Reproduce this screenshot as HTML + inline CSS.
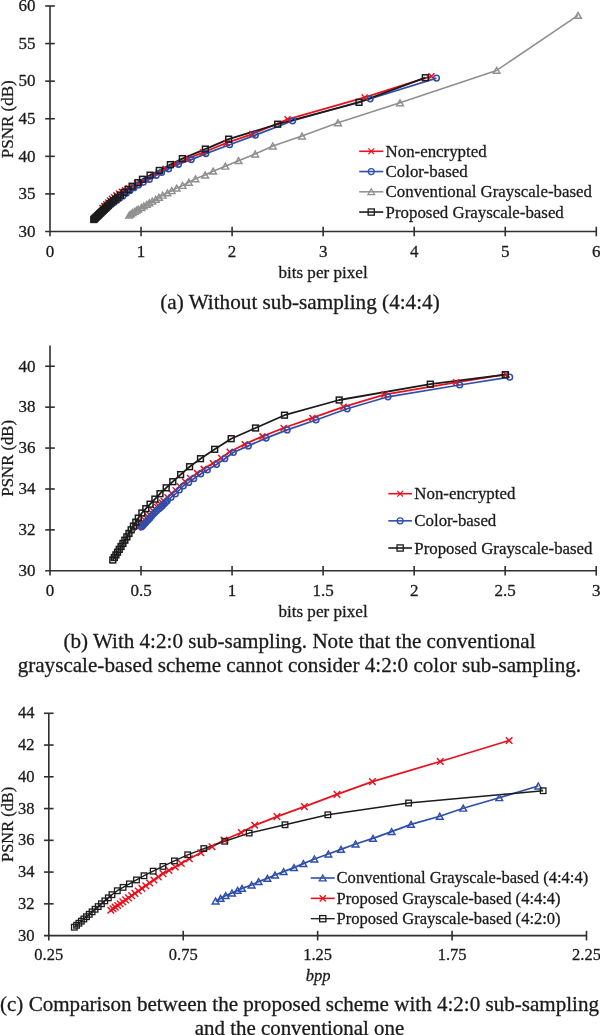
<!DOCTYPE html>
<html><head><meta charset="utf-8"><style>
html,body{margin:0;padding:0;background:#fff;width:600px;height:1035px;overflow:hidden}
svg{display:block}
text{font-family:"Liberation Serif","Times New Roman",serif;fill:#1a1a1a;stroke:#1a1a1a;stroke-width:0.28px}
</style></head><body>
<svg width="600" height="1035" viewBox="0 0 600 1035">
<path d="M50,6.0L50,236.3M45.2,231.5L596.3,231.5" stroke="#2f2f2f" stroke-width="1.6" fill="none"/>
<path d="M45.2,193.91L54.8,193.91" stroke="#2f2f2f" stroke-width="1.6"/>
<path d="M45.2,156.33L54.8,156.33" stroke="#2f2f2f" stroke-width="1.6"/>
<path d="M45.2,118.74L54.8,118.74" stroke="#2f2f2f" stroke-width="1.6"/>
<path d="M45.2,81.16L54.8,81.16" stroke="#2f2f2f" stroke-width="1.6"/>
<path d="M45.2,43.57L54.8,43.57" stroke="#2f2f2f" stroke-width="1.6"/>
<path d="M45.2,5.99L54.8,5.99" stroke="#2f2f2f" stroke-width="1.6"/>
<path d="M141.05,226.7L141.05,236.3" stroke="#2f2f2f" stroke-width="1.6"/>
<path d="M232.10,226.7L232.10,236.3" stroke="#2f2f2f" stroke-width="1.6"/>
<path d="M323.15,226.7L323.15,236.3" stroke="#2f2f2f" stroke-width="1.6"/>
<path d="M414.20,226.7L414.20,236.3" stroke="#2f2f2f" stroke-width="1.6"/>
<path d="M505.25,226.7L505.25,236.3" stroke="#2f2f2f" stroke-width="1.6"/>
<path d="M596.30,226.7L596.30,236.3" stroke="#2f2f2f" stroke-width="1.6"/>
<text x="50.00" y="256.6" text-anchor="middle" font-size="17">0</text>
<text x="141.05" y="256.6" text-anchor="middle" font-size="17">1</text>
<text x="232.10" y="256.6" text-anchor="middle" font-size="17">2</text>
<text x="323.15" y="256.6" text-anchor="middle" font-size="17">3</text>
<text x="414.20" y="256.6" text-anchor="middle" font-size="17">4</text>
<text x="505.25" y="256.6" text-anchor="middle" font-size="17">5</text>
<text x="596.30" y="256.6" text-anchor="middle" font-size="17">6</text>
<text x="35.6" y="236.77" text-anchor="end" font-size="17">30</text>
<text x="35.6" y="199.19" text-anchor="end" font-size="17">35</text>
<text x="35.6" y="161.60" text-anchor="end" font-size="17">40</text>
<text x="35.6" y="124.01" text-anchor="end" font-size="17">45</text>
<text x="35.6" y="86.43" text-anchor="end" font-size="17">50</text>
<text x="35.6" y="48.84" text-anchor="end" font-size="17">55</text>
<text x="35.6" y="11.26" text-anchor="end" font-size="17">60</text>
<path d="M431.50,76.20L364.70,97.40L287.50,119.30L252.40,134.06L226.60,142.92L202.90,152.47L188.30,158.42L175.50,163.88L165.60,168.78L158.60,172.42L153.30,175.28L146.30,179.01L140.30,182.41L137.00,183.28L132.60,185.94L128.64,188.22L125.08,190.19L121.87,191.83L118.98,193.45L116.38,195.37L114.05,197.20L111.94,198.78L110.04,200.52L108.14,202.39L106.24,204.26L104.34,206.13L102.44,207.99" stroke="#E8111E" stroke-width="1.8" fill="none" stroke-linejoin="round"/>
<path d="M436.50,78.10L370.20,98.80L292.60,120.80L255.40,135.10L229.60,144.70L205.90,153.60L191.30,159.60L178.50,164.30L168.60,168.90L161.60,172.40L156.30,175.30L149.30,179.40L143.30,182.20L138.50,184.89L134.00,187.69L130.00,190.48L126.30,193.34L122.80,195.94L119.60,198.30L116.70,200.52L114.00,202.47L111.50,204.20L109.20,206.30L107.10,208.24L105.10,210.09L103.30,211.75L101.60,213.32L100.00,214.79L98.60,216.08" stroke="#2F4EAA" stroke-width="1.7" fill="none" stroke-linejoin="round"/>
<path d="M578.00,15.40L496.60,70.40L400.00,102.80L338.00,122.80L302.00,136.00L272.80,146.00L255.20,154.00L238.54,160.68L225.33,166.22L213.11,171.19L205.18,175.03L195.43,178.86L188.86,182.27L182.56,185.49L176.66,188.14L171.72,190.70L167.45,192.87L162.71,195.24L158.99,197.42L155.80,199.31L152.28,201.20L149.37,202.81L146.79,204.42L143.81,205.94L141.44,207.55L138.19,209.16L136.70,210.10L134.81,211.33L132.64,212.57L130.95,213.89L129.25,215.12" stroke="#8F8F8F" stroke-width="1.6" fill="none" stroke-linejoin="round"/>
<path d="M425.30,77.70L359.00,102.35L277.70,124.20L228.65,139.15L205.35,149.09L182.35,158.60L170.37,164.66L159.33,170.44L150.05,175.17L142.49,179.29L137.96,182.70L132.10,186.25L128.03,189.42L124.24,192.31L120.34,195.10L117.64,197.37L115.57,199.03L113.47,200.64L111.44,202.15L109.86,203.70L108.36,205.18L106.93,206.58L105.58,207.91L104.30,209.17L103.07,210.37L101.91,211.51L100.81,212.60L99.76,213.62L98.77,214.60L97.82,215.53L96.92,216.41L96.07,217.25L95.26,218.05L94.49,218.81L93.76,219.52" stroke="#1B1B1B" stroke-width="1.8" fill="none" stroke-linejoin="round"/>
<path d="M428.50,73.20L434.50,79.20M428.50,79.20L434.50,73.20" stroke="#E8111E" stroke-width="1.45" fill="none"/>
<path d="M361.70,94.40L367.70,100.40M361.70,100.40L367.70,94.40" stroke="#E8111E" stroke-width="1.45" fill="none"/>
<path d="M284.50,116.30L290.50,122.30M284.50,122.30L290.50,116.30" stroke="#E8111E" stroke-width="1.45" fill="none"/>
<path d="M249.40,131.06L255.40,137.06M249.40,137.06L255.40,131.06" stroke="#E8111E" stroke-width="1.45" fill="none"/>
<path d="M223.60,139.92L229.60,145.92M223.60,145.92L229.60,139.92" stroke="#E8111E" stroke-width="1.45" fill="none"/>
<path d="M199.90,149.47L205.90,155.47M199.90,155.47L205.90,149.47" stroke="#E8111E" stroke-width="1.45" fill="none"/>
<path d="M185.30,155.42L191.30,161.42M185.30,161.42L191.30,155.42" stroke="#E8111E" stroke-width="1.45" fill="none"/>
<path d="M172.50,160.88L178.50,166.88M172.50,166.88L178.50,160.88" stroke="#E8111E" stroke-width="1.45" fill="none"/>
<path d="M162.60,165.78L168.60,171.78M162.60,171.78L168.60,165.78" stroke="#E8111E" stroke-width="1.45" fill="none"/>
<path d="M155.60,169.42L161.60,175.42M155.60,175.42L161.60,169.42" stroke="#E8111E" stroke-width="1.45" fill="none"/>
<path d="M150.30,172.28L156.30,178.28M150.30,178.28L156.30,172.28" stroke="#E8111E" stroke-width="1.45" fill="none"/>
<path d="M143.30,176.01L149.30,182.01M143.30,182.01L149.30,176.01" stroke="#E8111E" stroke-width="1.45" fill="none"/>
<path d="M137.30,179.41L143.30,185.41M137.30,185.41L143.30,179.41" stroke="#E8111E" stroke-width="1.45" fill="none"/>
<path d="M134.00,180.28L140.00,186.28M134.00,186.28L140.00,180.28" stroke="#E8111E" stroke-width="1.45" fill="none"/>
<path d="M129.60,182.94L135.60,188.94M129.60,188.94L135.60,182.94" stroke="#E8111E" stroke-width="1.45" fill="none"/>
<path d="M125.64,185.22L131.64,191.22M125.64,191.22L131.64,185.22" stroke="#E8111E" stroke-width="1.45" fill="none"/>
<path d="M122.08,187.19L128.08,193.19M122.08,193.19L128.08,187.19" stroke="#E8111E" stroke-width="1.45" fill="none"/>
<path d="M118.87,188.83L124.87,194.83M118.87,194.83L124.87,188.83" stroke="#E8111E" stroke-width="1.45" fill="none"/>
<path d="M115.98,190.45L121.98,196.45M115.98,196.45L121.98,190.45" stroke="#E8111E" stroke-width="1.45" fill="none"/>
<path d="M113.38,192.37L119.38,198.37M113.38,198.37L119.38,192.37" stroke="#E8111E" stroke-width="1.45" fill="none"/>
<path d="M111.05,194.20L117.05,200.20M111.05,200.20L117.05,194.20" stroke="#E8111E" stroke-width="1.45" fill="none"/>
<path d="M108.94,195.78L114.94,201.78M108.94,201.78L114.94,195.78" stroke="#E8111E" stroke-width="1.45" fill="none"/>
<path d="M107.04,197.52L113.04,203.52M107.04,203.52L113.04,197.52" stroke="#E8111E" stroke-width="1.45" fill="none"/>
<path d="M105.14,199.39L111.14,205.39M105.14,205.39L111.14,199.39" stroke="#E8111E" stroke-width="1.45" fill="none"/>
<path d="M103.24,201.26L109.24,207.26M103.24,207.26L109.24,201.26" stroke="#E8111E" stroke-width="1.45" fill="none"/>
<path d="M101.34,203.13L107.34,209.13M101.34,209.13L107.34,203.13" stroke="#E8111E" stroke-width="1.45" fill="none"/>
<path d="M99.44,204.99L105.44,210.99M99.44,210.99L105.44,204.99" stroke="#E8111E" stroke-width="1.45" fill="none"/>
<circle cx="436.50" cy="78.10" r="2.85" stroke="#2F4EAA" stroke-width="1.5" fill="none"/>
<circle cx="370.20" cy="98.80" r="2.85" stroke="#2F4EAA" stroke-width="1.5" fill="none"/>
<circle cx="292.60" cy="120.80" r="2.85" stroke="#2F4EAA" stroke-width="1.5" fill="none"/>
<circle cx="255.40" cy="135.10" r="2.85" stroke="#2F4EAA" stroke-width="1.5" fill="none"/>
<circle cx="229.60" cy="144.70" r="2.85" stroke="#2F4EAA" stroke-width="1.5" fill="none"/>
<circle cx="205.90" cy="153.60" r="2.85" stroke="#2F4EAA" stroke-width="1.5" fill="none"/>
<circle cx="191.30" cy="159.60" r="2.85" stroke="#2F4EAA" stroke-width="1.5" fill="none"/>
<circle cx="178.50" cy="164.30" r="2.85" stroke="#2F4EAA" stroke-width="1.5" fill="none"/>
<circle cx="168.60" cy="168.90" r="2.85" stroke="#2F4EAA" stroke-width="1.5" fill="none"/>
<circle cx="161.60" cy="172.40" r="2.85" stroke="#2F4EAA" stroke-width="1.5" fill="none"/>
<circle cx="156.30" cy="175.30" r="2.85" stroke="#2F4EAA" stroke-width="1.5" fill="none"/>
<circle cx="149.30" cy="179.40" r="2.85" stroke="#2F4EAA" stroke-width="1.5" fill="none"/>
<circle cx="143.30" cy="182.20" r="2.85" stroke="#2F4EAA" stroke-width="1.5" fill="none"/>
<circle cx="138.50" cy="184.89" r="2.85" stroke="#2F4EAA" stroke-width="1.5" fill="none"/>
<circle cx="134.00" cy="187.69" r="2.85" stroke="#2F4EAA" stroke-width="1.5" fill="none"/>
<circle cx="130.00" cy="190.48" r="2.85" stroke="#2F4EAA" stroke-width="1.5" fill="none"/>
<circle cx="126.30" cy="193.34" r="2.85" stroke="#2F4EAA" stroke-width="1.5" fill="none"/>
<circle cx="122.80" cy="195.94" r="2.85" stroke="#2F4EAA" stroke-width="1.5" fill="none"/>
<circle cx="119.60" cy="198.30" r="2.85" stroke="#2F4EAA" stroke-width="1.5" fill="none"/>
<circle cx="116.70" cy="200.52" r="2.85" stroke="#2F4EAA" stroke-width="1.5" fill="none"/>
<circle cx="114.00" cy="202.47" r="2.85" stroke="#2F4EAA" stroke-width="1.5" fill="none"/>
<circle cx="111.50" cy="204.20" r="2.85" stroke="#2F4EAA" stroke-width="1.5" fill="none"/>
<circle cx="109.20" cy="206.30" r="2.85" stroke="#2F4EAA" stroke-width="1.5" fill="none"/>
<circle cx="107.10" cy="208.24" r="2.85" stroke="#2F4EAA" stroke-width="1.5" fill="none"/>
<circle cx="105.10" cy="210.09" r="2.85" stroke="#2F4EAA" stroke-width="1.5" fill="none"/>
<circle cx="103.30" cy="211.75" r="2.85" stroke="#2F4EAA" stroke-width="1.5" fill="none"/>
<circle cx="101.60" cy="213.32" r="2.85" stroke="#2F4EAA" stroke-width="1.5" fill="none"/>
<circle cx="100.00" cy="214.79" r="2.85" stroke="#2F4EAA" stroke-width="1.5" fill="none"/>
<circle cx="98.60" cy="216.08" r="2.85" stroke="#2F4EAA" stroke-width="1.5" fill="none"/>
<path d="M578.00,12.40L581.36,18.30L574.64,18.30Z" stroke="#8F8F8F" stroke-width="1.45" fill="none" stroke-linejoin="miter"/>
<path d="M496.60,67.40L499.96,73.30L493.24,73.30Z" stroke="#8F8F8F" stroke-width="1.45" fill="none" stroke-linejoin="miter"/>
<path d="M400.00,99.80L403.36,105.70L396.64,105.70Z" stroke="#8F8F8F" stroke-width="1.45" fill="none" stroke-linejoin="miter"/>
<path d="M338.00,119.80L341.36,125.70L334.64,125.70Z" stroke="#8F8F8F" stroke-width="1.45" fill="none" stroke-linejoin="miter"/>
<path d="M302.00,133.00L305.36,138.90L298.64,138.90Z" stroke="#8F8F8F" stroke-width="1.45" fill="none" stroke-linejoin="miter"/>
<path d="M272.80,143.00L276.16,148.90L269.44,148.90Z" stroke="#8F8F8F" stroke-width="1.45" fill="none" stroke-linejoin="miter"/>
<path d="M255.20,151.00L258.56,156.90L251.84,156.90Z" stroke="#8F8F8F" stroke-width="1.45" fill="none" stroke-linejoin="miter"/>
<path d="M238.54,157.68L241.90,163.58L235.18,163.58Z" stroke="#8F8F8F" stroke-width="1.45" fill="none" stroke-linejoin="miter"/>
<path d="M225.33,163.22L228.69,169.12L221.97,169.12Z" stroke="#8F8F8F" stroke-width="1.45" fill="none" stroke-linejoin="miter"/>
<path d="M213.11,168.19L216.47,174.09L209.75,174.09Z" stroke="#8F8F8F" stroke-width="1.45" fill="none" stroke-linejoin="miter"/>
<path d="M205.18,172.03L208.54,177.93L201.82,177.93Z" stroke="#8F8F8F" stroke-width="1.45" fill="none" stroke-linejoin="miter"/>
<path d="M195.43,175.86L198.79,181.76L192.07,181.76Z" stroke="#8F8F8F" stroke-width="1.45" fill="none" stroke-linejoin="miter"/>
<path d="M188.86,179.27L192.22,185.17L185.50,185.17Z" stroke="#8F8F8F" stroke-width="1.45" fill="none" stroke-linejoin="miter"/>
<path d="M182.56,182.49L185.92,188.39L179.20,188.39Z" stroke="#8F8F8F" stroke-width="1.45" fill="none" stroke-linejoin="miter"/>
<path d="M176.66,185.14L180.02,191.04L173.30,191.04Z" stroke="#8F8F8F" stroke-width="1.45" fill="none" stroke-linejoin="miter"/>
<path d="M171.72,187.70L175.08,193.60L168.36,193.60Z" stroke="#8F8F8F" stroke-width="1.45" fill="none" stroke-linejoin="miter"/>
<path d="M167.45,189.87L170.81,195.77L164.09,195.77Z" stroke="#8F8F8F" stroke-width="1.45" fill="none" stroke-linejoin="miter"/>
<path d="M162.71,192.24L166.07,198.14L159.35,198.14Z" stroke="#8F8F8F" stroke-width="1.45" fill="none" stroke-linejoin="miter"/>
<path d="M158.99,194.42L162.35,200.32L155.63,200.32Z" stroke="#8F8F8F" stroke-width="1.45" fill="none" stroke-linejoin="miter"/>
<path d="M155.80,196.31L159.16,202.21L152.44,202.21Z" stroke="#8F8F8F" stroke-width="1.45" fill="none" stroke-linejoin="miter"/>
<path d="M152.28,198.20L155.64,204.10L148.92,204.10Z" stroke="#8F8F8F" stroke-width="1.45" fill="none" stroke-linejoin="miter"/>
<path d="M149.37,199.81L152.73,205.71L146.01,205.71Z" stroke="#8F8F8F" stroke-width="1.45" fill="none" stroke-linejoin="miter"/>
<path d="M146.79,201.42L150.15,207.32L143.43,207.32Z" stroke="#8F8F8F" stroke-width="1.45" fill="none" stroke-linejoin="miter"/>
<path d="M143.81,202.94L147.17,208.84L140.45,208.84Z" stroke="#8F8F8F" stroke-width="1.45" fill="none" stroke-linejoin="miter"/>
<path d="M141.44,204.55L144.80,210.45L138.08,210.45Z" stroke="#8F8F8F" stroke-width="1.45" fill="none" stroke-linejoin="miter"/>
<path d="M138.19,206.16L141.55,212.06L134.83,212.06Z" stroke="#8F8F8F" stroke-width="1.45" fill="none" stroke-linejoin="miter"/>
<path d="M136.70,207.10L140.06,213.00L133.34,213.00Z" stroke="#8F8F8F" stroke-width="1.45" fill="none" stroke-linejoin="miter"/>
<path d="M134.81,208.33L138.17,214.23L131.45,214.23Z" stroke="#8F8F8F" stroke-width="1.45" fill="none" stroke-linejoin="miter"/>
<path d="M132.64,209.57L136.00,215.47L129.28,215.47Z" stroke="#8F8F8F" stroke-width="1.45" fill="none" stroke-linejoin="miter"/>
<path d="M130.95,210.89L134.31,216.79L127.59,216.79Z" stroke="#8F8F8F" stroke-width="1.45" fill="none" stroke-linejoin="miter"/>
<path d="M129.25,212.12L132.61,218.02L125.89,218.02Z" stroke="#8F8F8F" stroke-width="1.45" fill="none" stroke-linejoin="miter"/>
<rect x="422.40" y="74.80" width="5.80" height="5.80" stroke="#1B1B1B" stroke-width="1.5" fill="none"/>
<rect x="356.10" y="99.45" width="5.80" height="5.80" stroke="#1B1B1B" stroke-width="1.5" fill="none"/>
<rect x="274.80" y="121.30" width="5.80" height="5.80" stroke="#1B1B1B" stroke-width="1.5" fill="none"/>
<rect x="225.75" y="136.25" width="5.80" height="5.80" stroke="#1B1B1B" stroke-width="1.5" fill="none"/>
<rect x="202.45" y="146.19" width="5.80" height="5.80" stroke="#1B1B1B" stroke-width="1.5" fill="none"/>
<rect x="179.45" y="155.70" width="5.80" height="5.80" stroke="#1B1B1B" stroke-width="1.5" fill="none"/>
<rect x="167.47" y="161.76" width="5.80" height="5.80" stroke="#1B1B1B" stroke-width="1.5" fill="none"/>
<rect x="156.43" y="167.54" width="5.80" height="5.80" stroke="#1B1B1B" stroke-width="1.5" fill="none"/>
<rect x="147.15" y="172.27" width="5.80" height="5.80" stroke="#1B1B1B" stroke-width="1.5" fill="none"/>
<rect x="139.59" y="176.39" width="5.80" height="5.80" stroke="#1B1B1B" stroke-width="1.5" fill="none"/>
<rect x="135.06" y="179.80" width="5.80" height="5.80" stroke="#1B1B1B" stroke-width="1.5" fill="none"/>
<rect x="129.20" y="183.35" width="5.80" height="5.80" stroke="#1B1B1B" stroke-width="1.5" fill="none"/>
<rect x="125.13" y="186.52" width="5.80" height="5.80" stroke="#1B1B1B" stroke-width="1.5" fill="none"/>
<rect x="121.34" y="189.41" width="5.80" height="5.80" stroke="#1B1B1B" stroke-width="1.5" fill="none"/>
<rect x="117.44" y="192.20" width="5.80" height="5.80" stroke="#1B1B1B" stroke-width="1.5" fill="none"/>
<rect x="114.74" y="194.47" width="5.80" height="5.80" stroke="#1B1B1B" stroke-width="1.5" fill="none"/>
<rect x="112.67" y="196.13" width="5.80" height="5.80" stroke="#1B1B1B" stroke-width="1.5" fill="none"/>
<rect x="110.57" y="197.74" width="5.80" height="5.80" stroke="#1B1B1B" stroke-width="1.5" fill="none"/>
<rect x="108.54" y="199.25" width="5.80" height="5.80" stroke="#1B1B1B" stroke-width="1.5" fill="none"/>
<rect x="106.96" y="200.80" width="5.80" height="5.80" stroke="#1B1B1B" stroke-width="1.5" fill="none"/>
<rect x="105.46" y="202.28" width="5.80" height="5.80" stroke="#1B1B1B" stroke-width="1.5" fill="none"/>
<rect x="104.03" y="203.68" width="5.80" height="5.80" stroke="#1B1B1B" stroke-width="1.5" fill="none"/>
<rect x="102.68" y="205.01" width="5.80" height="5.80" stroke="#1B1B1B" stroke-width="1.5" fill="none"/>
<rect x="101.40" y="206.27" width="5.80" height="5.80" stroke="#1B1B1B" stroke-width="1.5" fill="none"/>
<rect x="100.17" y="207.47" width="5.80" height="5.80" stroke="#1B1B1B" stroke-width="1.5" fill="none"/>
<rect x="99.01" y="208.61" width="5.80" height="5.80" stroke="#1B1B1B" stroke-width="1.5" fill="none"/>
<rect x="97.91" y="209.70" width="5.80" height="5.80" stroke="#1B1B1B" stroke-width="1.5" fill="none"/>
<rect x="96.86" y="210.72" width="5.80" height="5.80" stroke="#1B1B1B" stroke-width="1.5" fill="none"/>
<rect x="95.87" y="211.70" width="5.80" height="5.80" stroke="#1B1B1B" stroke-width="1.5" fill="none"/>
<rect x="94.92" y="212.63" width="5.80" height="5.80" stroke="#1B1B1B" stroke-width="1.5" fill="none"/>
<rect x="94.02" y="213.51" width="5.80" height="5.80" stroke="#1B1B1B" stroke-width="1.5" fill="none"/>
<rect x="93.17" y="214.35" width="5.80" height="5.80" stroke="#1B1B1B" stroke-width="1.5" fill="none"/>
<rect x="92.36" y="215.15" width="5.80" height="5.80" stroke="#1B1B1B" stroke-width="1.5" fill="none"/>
<rect x="91.59" y="215.91" width="5.80" height="5.80" stroke="#1B1B1B" stroke-width="1.5" fill="none"/>
<rect x="90.86" y="216.62" width="5.80" height="5.80" stroke="#1B1B1B" stroke-width="1.5" fill="none"/>
<path d="M359.2,151.30L383.3,151.30" stroke="#E8111E" stroke-width="1.6"/>
<path d="M368.35,148.40L374.15,154.20M368.35,154.20L374.15,148.40" stroke="#E8111E" stroke-width="1.2" fill="none"/>
<text x="385.6" y="156.86" font-size="16.85">Non-encrypted</text>
<path d="M359.2,171.55L383.3,171.55" stroke="#2F4EAA" stroke-width="1.6"/>
<circle cx="371.25" cy="171.55" r="3.00" stroke="#2F4EAA" stroke-width="1.2" fill="none"/>
<text x="385.6" y="177.11" font-size="16.85">Color-based</text>
<path d="M359.2,191.80L383.3,191.80" stroke="#8F8F8F" stroke-width="1.5"/>
<path d="M371.25,188.80L374.61,194.70L367.89,194.70Z" stroke="#8F8F8F" stroke-width="1.2" fill="none" stroke-linejoin="miter"/>
<text x="385.6" y="197.36" font-size="16.85">Conventional Grayscale-based</text>
<path d="M359.2,212.05L383.3,212.05" stroke="#1B1B1B" stroke-width="1.6"/>
<rect x="368.15" y="208.95" width="6.20" height="6.20" stroke="#1B1B1B" stroke-width="1.3" fill="none"/>
<text x="385.6" y="217.61" font-size="16.85">Proposed Grayscale-based</text>
<text x="323" y="277.6" text-anchor="middle" font-size="17.1">bits per pixel</text>
<text transform="translate(13.2,119.2) rotate(-90)" text-anchor="middle" font-size="17">PSNR (dB)</text>
<text x="300" y="308.8" text-anchor="middle" font-size="20.2" textLength="279.5" lengthAdjust="spacingAndGlyphs">(a) Without sub-sampling (4:4:4)</text>
<path d="M50,345.6L50,575.5999999999999M45.2,570.8L596.2,570.8" stroke="#2f2f2f" stroke-width="1.6" fill="none"/>
<path d="M45.2,529.89L54.8,529.89" stroke="#2f2f2f" stroke-width="1.6"/>
<path d="M45.2,488.98L54.8,488.98" stroke="#2f2f2f" stroke-width="1.6"/>
<path d="M45.2,448.07L54.8,448.07" stroke="#2f2f2f" stroke-width="1.6"/>
<path d="M45.2,407.16L54.8,407.16" stroke="#2f2f2f" stroke-width="1.6"/>
<path d="M45.2,366.25L54.8,366.25" stroke="#2f2f2f" stroke-width="1.6"/>
<path d="M141.03,566.0L141.03,575.5999999999999" stroke="#2f2f2f" stroke-width="1.6"/>
<path d="M232.07,566.0L232.07,575.5999999999999" stroke="#2f2f2f" stroke-width="1.6"/>
<path d="M323.11,566.0L323.11,575.5999999999999" stroke="#2f2f2f" stroke-width="1.6"/>
<path d="M414.14,566.0L414.14,575.5999999999999" stroke="#2f2f2f" stroke-width="1.6"/>
<path d="M505.17,566.0L505.17,575.5999999999999" stroke="#2f2f2f" stroke-width="1.6"/>
<path d="M596.21,566.0L596.21,575.5999999999999" stroke="#2f2f2f" stroke-width="1.6"/>
<text x="50.00" y="596.0" text-anchor="middle" font-size="17">0</text>
<text x="141.03" y="596.0" text-anchor="middle" font-size="17">0.5</text>
<text x="232.07" y="596.0" text-anchor="middle" font-size="17">1</text>
<text x="323.11" y="596.0" text-anchor="middle" font-size="17">1.5</text>
<text x="414.14" y="596.0" text-anchor="middle" font-size="17">2</text>
<text x="505.17" y="596.0" text-anchor="middle" font-size="17">2.5</text>
<text x="596.21" y="596.0" text-anchor="middle" font-size="17">3</text>
<text x="35.6" y="576.07" text-anchor="end" font-size="17">30</text>
<text x="35.6" y="535.16" text-anchor="end" font-size="17">32</text>
<text x="35.6" y="494.25" text-anchor="end" font-size="17">34</text>
<text x="35.6" y="453.34" text-anchor="end" font-size="17">36</text>
<text x="35.6" y="412.43" text-anchor="end" font-size="17">38</text>
<text x="35.6" y="371.52" text-anchor="end" font-size="17">40</text>
<path d="M506.10,374.46L456.10,382.29L384.40,394.56L343.60,406.79L312.40,417.94L283.60,428.00L262.50,436.38L244.70,444.18L229.70,451.83L221.20,457.92L212.90,463.35L203.70,468.88L197.10,473.12L190.10,478.06L185.10,481.50L179.70,486.30L175.70,490.30L171.70,493.46L167.40,497.31L163.70,501.00L162.05,502.65L160.40,504.25L158.75,505.66L157.10,507.06L155.10,508.95L153.10,510.94L151.40,513.00L149.70,515.00L148.05,516.65L146.40,518.33L144.75,520.15L143.10,521.96L141.65,523.54L140.20,525.11L139.05,526.36L137.90,527.61" stroke="#E8111E" stroke-width="1.8" fill="none" stroke-linejoin="round"/>
<path d="M509.70,377.20L459.70,385.00L388.00,396.80L347.20,408.80L316.00,420.00L287.20,429.90L266.10,438.10L248.30,445.90L233.30,452.50L224.80,458.70L216.50,464.50L207.30,470.00L200.70,474.00L193.70,478.70L188.70,482.40L183.30,486.00L179.30,490.00L175.30,494.00L171.00,497.30L167.30,500.70L165.65,502.35L164.00,504.00L162.35,505.65L160.70,507.30L158.70,509.00L156.70,510.70L155.00,512.35L153.30,514.00L151.65,516.00L150.00,518.00L148.35,519.65L146.70,521.30L145.25,522.90L143.80,524.50L142.65,525.75L141.50,527.00" stroke="#2F4EAA" stroke-width="1.7" fill="none" stroke-linejoin="round"/>
<path d="M505.30,374.70L430.30,384.20L339.20,400.00L284.50,415.20L255.50,428.00L231.20,438.70L214.70,449.30L200.50,458.70L189.60,466.70L180.60,474.60L172.80,481.70L166.20,487.80L160.00,493.70L154.90,499.10L150.10,504.20L145.80,508.70L141.90,513.00L138.30,518.10L135.82,522.17L133.45,526.08L131.16,529.83L128.97,533.43L126.87,536.89L124.85,540.20L122.91,543.39L121.05,546.45L119.26,549.38L117.55,552.20L115.90,554.91L114.32,557.51L112.80,560.00" stroke="#1B1B1B" stroke-width="1.8" fill="none" stroke-linejoin="round"/>
<path d="M503.10,371.46L509.10,377.46M503.10,377.46L509.10,371.46" stroke="#E8111E" stroke-width="1.45" fill="none"/>
<path d="M453.10,379.29L459.10,385.29M453.10,385.29L459.10,379.29" stroke="#E8111E" stroke-width="1.45" fill="none"/>
<path d="M381.40,391.56L387.40,397.56M381.40,397.56L387.40,391.56" stroke="#E8111E" stroke-width="1.45" fill="none"/>
<path d="M340.60,403.79L346.60,409.79M340.60,409.79L346.60,403.79" stroke="#E8111E" stroke-width="1.45" fill="none"/>
<path d="M309.40,414.94L315.40,420.94M309.40,420.94L315.40,414.94" stroke="#E8111E" stroke-width="1.45" fill="none"/>
<path d="M280.60,425.00L286.60,431.00M280.60,431.00L286.60,425.00" stroke="#E8111E" stroke-width="1.45" fill="none"/>
<path d="M259.50,433.38L265.50,439.38M259.50,439.38L265.50,433.38" stroke="#E8111E" stroke-width="1.45" fill="none"/>
<path d="M241.70,441.18L247.70,447.18M241.70,447.18L247.70,441.18" stroke="#E8111E" stroke-width="1.45" fill="none"/>
<path d="M226.70,448.83L232.70,454.83M226.70,454.83L232.70,448.83" stroke="#E8111E" stroke-width="1.45" fill="none"/>
<path d="M218.20,454.92L224.20,460.92M218.20,460.92L224.20,454.92" stroke="#E8111E" stroke-width="1.45" fill="none"/>
<path d="M209.90,460.35L215.90,466.35M209.90,466.35L215.90,460.35" stroke="#E8111E" stroke-width="1.45" fill="none"/>
<path d="M200.70,465.88L206.70,471.88M200.70,471.88L206.70,465.88" stroke="#E8111E" stroke-width="1.45" fill="none"/>
<path d="M194.10,470.12L200.10,476.12M194.10,476.12L200.10,470.12" stroke="#E8111E" stroke-width="1.45" fill="none"/>
<path d="M187.10,475.06L193.10,481.06M187.10,481.06L193.10,475.06" stroke="#E8111E" stroke-width="1.45" fill="none"/>
<path d="M182.10,478.50L188.10,484.50M182.10,484.50L188.10,478.50" stroke="#E8111E" stroke-width="1.45" fill="none"/>
<path d="M176.70,483.30L182.70,489.30M176.70,489.30L182.70,483.30" stroke="#E8111E" stroke-width="1.45" fill="none"/>
<path d="M172.70,487.30L178.70,493.30M172.70,493.30L178.70,487.30" stroke="#E8111E" stroke-width="1.45" fill="none"/>
<path d="M168.70,490.46L174.70,496.46M168.70,496.46L174.70,490.46" stroke="#E8111E" stroke-width="1.45" fill="none"/>
<path d="M164.40,494.31L170.40,500.31M164.40,500.31L170.40,494.31" stroke="#E8111E" stroke-width="1.45" fill="none"/>
<path d="M160.70,498.00L166.70,504.00M160.70,504.00L166.70,498.00" stroke="#E8111E" stroke-width="1.45" fill="none"/>
<path d="M159.05,499.65L165.05,505.65M159.05,505.65L165.05,499.65" stroke="#E8111E" stroke-width="1.45" fill="none"/>
<path d="M157.40,501.25L163.40,507.25M157.40,507.25L163.40,501.25" stroke="#E8111E" stroke-width="1.45" fill="none"/>
<path d="M155.75,502.66L161.75,508.66M155.75,508.66L161.75,502.66" stroke="#E8111E" stroke-width="1.45" fill="none"/>
<path d="M154.10,504.06L160.10,510.06M154.10,510.06L160.10,504.06" stroke="#E8111E" stroke-width="1.45" fill="none"/>
<path d="M152.10,505.95L158.10,511.95M152.10,511.95L158.10,505.95" stroke="#E8111E" stroke-width="1.45" fill="none"/>
<path d="M150.10,507.94L156.10,513.94M150.10,513.94L156.10,507.94" stroke="#E8111E" stroke-width="1.45" fill="none"/>
<path d="M148.40,510.00L154.40,516.00M148.40,516.00L154.40,510.00" stroke="#E8111E" stroke-width="1.45" fill="none"/>
<path d="M146.70,512.00L152.70,518.00M146.70,518.00L152.70,512.00" stroke="#E8111E" stroke-width="1.45" fill="none"/>
<path d="M145.05,513.65L151.05,519.65M145.05,519.65L151.05,513.65" stroke="#E8111E" stroke-width="1.45" fill="none"/>
<path d="M143.40,515.33L149.40,521.33M143.40,521.33L149.40,515.33" stroke="#E8111E" stroke-width="1.45" fill="none"/>
<path d="M141.75,517.15L147.75,523.15M141.75,523.15L147.75,517.15" stroke="#E8111E" stroke-width="1.45" fill="none"/>
<path d="M140.10,518.96L146.10,524.96M140.10,524.96L146.10,518.96" stroke="#E8111E" stroke-width="1.45" fill="none"/>
<path d="M138.65,520.54L144.65,526.54M138.65,526.54L144.65,520.54" stroke="#E8111E" stroke-width="1.45" fill="none"/>
<path d="M137.20,522.11L143.20,528.11M137.20,528.11L143.20,522.11" stroke="#E8111E" stroke-width="1.45" fill="none"/>
<path d="M136.05,523.36L142.05,529.36M136.05,529.36L142.05,523.36" stroke="#E8111E" stroke-width="1.45" fill="none"/>
<path d="M134.90,524.61L140.90,530.61M134.90,530.61L140.90,524.61" stroke="#E8111E" stroke-width="1.45" fill="none"/>
<circle cx="509.70" cy="377.20" r="2.85" stroke="#2F4EAA" stroke-width="1.5" fill="none"/>
<circle cx="459.70" cy="385.00" r="2.85" stroke="#2F4EAA" stroke-width="1.5" fill="none"/>
<circle cx="388.00" cy="396.80" r="2.85" stroke="#2F4EAA" stroke-width="1.5" fill="none"/>
<circle cx="347.20" cy="408.80" r="2.85" stroke="#2F4EAA" stroke-width="1.5" fill="none"/>
<circle cx="316.00" cy="420.00" r="2.85" stroke="#2F4EAA" stroke-width="1.5" fill="none"/>
<circle cx="287.20" cy="429.90" r="2.85" stroke="#2F4EAA" stroke-width="1.5" fill="none"/>
<circle cx="266.10" cy="438.10" r="2.85" stroke="#2F4EAA" stroke-width="1.5" fill="none"/>
<circle cx="248.30" cy="445.90" r="2.85" stroke="#2F4EAA" stroke-width="1.5" fill="none"/>
<circle cx="233.30" cy="452.50" r="2.85" stroke="#2F4EAA" stroke-width="1.5" fill="none"/>
<circle cx="224.80" cy="458.70" r="2.85" stroke="#2F4EAA" stroke-width="1.5" fill="none"/>
<circle cx="216.50" cy="464.50" r="2.85" stroke="#2F4EAA" stroke-width="1.5" fill="none"/>
<circle cx="207.30" cy="470.00" r="2.85" stroke="#2F4EAA" stroke-width="1.5" fill="none"/>
<circle cx="200.70" cy="474.00" r="2.85" stroke="#2F4EAA" stroke-width="1.5" fill="none"/>
<circle cx="193.70" cy="478.70" r="2.85" stroke="#2F4EAA" stroke-width="1.5" fill="none"/>
<circle cx="188.70" cy="482.40" r="2.85" stroke="#2F4EAA" stroke-width="1.5" fill="none"/>
<circle cx="183.30" cy="486.00" r="2.85" stroke="#2F4EAA" stroke-width="1.5" fill="none"/>
<circle cx="179.30" cy="490.00" r="2.85" stroke="#2F4EAA" stroke-width="1.5" fill="none"/>
<circle cx="175.30" cy="494.00" r="2.85" stroke="#2F4EAA" stroke-width="1.5" fill="none"/>
<circle cx="171.00" cy="497.30" r="2.85" stroke="#2F4EAA" stroke-width="1.5" fill="none"/>
<circle cx="167.30" cy="500.70" r="2.85" stroke="#2F4EAA" stroke-width="1.5" fill="none"/>
<circle cx="165.65" cy="502.35" r="2.85" stroke="#2F4EAA" stroke-width="1.5" fill="none"/>
<circle cx="164.00" cy="504.00" r="2.85" stroke="#2F4EAA" stroke-width="1.5" fill="none"/>
<circle cx="162.35" cy="505.65" r="2.85" stroke="#2F4EAA" stroke-width="1.5" fill="none"/>
<circle cx="160.70" cy="507.30" r="2.85" stroke="#2F4EAA" stroke-width="1.5" fill="none"/>
<circle cx="158.70" cy="509.00" r="2.85" stroke="#2F4EAA" stroke-width="1.5" fill="none"/>
<circle cx="156.70" cy="510.70" r="2.85" stroke="#2F4EAA" stroke-width="1.5" fill="none"/>
<circle cx="155.00" cy="512.35" r="2.85" stroke="#2F4EAA" stroke-width="1.5" fill="none"/>
<circle cx="153.30" cy="514.00" r="2.85" stroke="#2F4EAA" stroke-width="1.5" fill="none"/>
<circle cx="151.65" cy="516.00" r="2.85" stroke="#2F4EAA" stroke-width="1.5" fill="none"/>
<circle cx="150.00" cy="518.00" r="2.85" stroke="#2F4EAA" stroke-width="1.5" fill="none"/>
<circle cx="148.35" cy="519.65" r="2.85" stroke="#2F4EAA" stroke-width="1.5" fill="none"/>
<circle cx="146.70" cy="521.30" r="2.85" stroke="#2F4EAA" stroke-width="1.5" fill="none"/>
<circle cx="145.25" cy="522.90" r="2.85" stroke="#2F4EAA" stroke-width="1.5" fill="none"/>
<circle cx="143.80" cy="524.50" r="2.85" stroke="#2F4EAA" stroke-width="1.5" fill="none"/>
<circle cx="142.65" cy="525.75" r="2.85" stroke="#2F4EAA" stroke-width="1.5" fill="none"/>
<circle cx="141.50" cy="527.00" r="2.85" stroke="#2F4EAA" stroke-width="1.5" fill="none"/>
<rect x="502.40" y="371.80" width="5.80" height="5.80" stroke="#1B1B1B" stroke-width="1.5" fill="none"/>
<rect x="427.40" y="381.30" width="5.80" height="5.80" stroke="#1B1B1B" stroke-width="1.5" fill="none"/>
<rect x="336.30" y="397.10" width="5.80" height="5.80" stroke="#1B1B1B" stroke-width="1.5" fill="none"/>
<rect x="281.60" y="412.30" width="5.80" height="5.80" stroke="#1B1B1B" stroke-width="1.5" fill="none"/>
<rect x="252.60" y="425.10" width="5.80" height="5.80" stroke="#1B1B1B" stroke-width="1.5" fill="none"/>
<rect x="228.30" y="435.80" width="5.80" height="5.80" stroke="#1B1B1B" stroke-width="1.5" fill="none"/>
<rect x="211.80" y="446.40" width="5.80" height="5.80" stroke="#1B1B1B" stroke-width="1.5" fill="none"/>
<rect x="197.60" y="455.80" width="5.80" height="5.80" stroke="#1B1B1B" stroke-width="1.5" fill="none"/>
<rect x="186.70" y="463.80" width="5.80" height="5.80" stroke="#1B1B1B" stroke-width="1.5" fill="none"/>
<rect x="177.70" y="471.70" width="5.80" height="5.80" stroke="#1B1B1B" stroke-width="1.5" fill="none"/>
<rect x="169.90" y="478.80" width="5.80" height="5.80" stroke="#1B1B1B" stroke-width="1.5" fill="none"/>
<rect x="163.30" y="484.90" width="5.80" height="5.80" stroke="#1B1B1B" stroke-width="1.5" fill="none"/>
<rect x="157.10" y="490.80" width="5.80" height="5.80" stroke="#1B1B1B" stroke-width="1.5" fill="none"/>
<rect x="152.00" y="496.20" width="5.80" height="5.80" stroke="#1B1B1B" stroke-width="1.5" fill="none"/>
<rect x="147.20" y="501.30" width="5.80" height="5.80" stroke="#1B1B1B" stroke-width="1.5" fill="none"/>
<rect x="142.90" y="505.80" width="5.80" height="5.80" stroke="#1B1B1B" stroke-width="1.5" fill="none"/>
<rect x="139.00" y="510.10" width="5.80" height="5.80" stroke="#1B1B1B" stroke-width="1.5" fill="none"/>
<rect x="135.40" y="515.20" width="5.80" height="5.80" stroke="#1B1B1B" stroke-width="1.5" fill="none"/>
<rect x="132.92" y="519.27" width="5.80" height="5.80" stroke="#1B1B1B" stroke-width="1.5" fill="none"/>
<rect x="130.55" y="523.18" width="5.80" height="5.80" stroke="#1B1B1B" stroke-width="1.5" fill="none"/>
<rect x="128.26" y="526.93" width="5.80" height="5.80" stroke="#1B1B1B" stroke-width="1.5" fill="none"/>
<rect x="126.07" y="530.53" width="5.80" height="5.80" stroke="#1B1B1B" stroke-width="1.5" fill="none"/>
<rect x="123.97" y="533.99" width="5.80" height="5.80" stroke="#1B1B1B" stroke-width="1.5" fill="none"/>
<rect x="121.95" y="537.30" width="5.80" height="5.80" stroke="#1B1B1B" stroke-width="1.5" fill="none"/>
<rect x="120.01" y="540.49" width="5.80" height="5.80" stroke="#1B1B1B" stroke-width="1.5" fill="none"/>
<rect x="118.15" y="543.55" width="5.80" height="5.80" stroke="#1B1B1B" stroke-width="1.5" fill="none"/>
<rect x="116.36" y="546.48" width="5.80" height="5.80" stroke="#1B1B1B" stroke-width="1.5" fill="none"/>
<rect x="114.65" y="549.30" width="5.80" height="5.80" stroke="#1B1B1B" stroke-width="1.5" fill="none"/>
<rect x="113.00" y="552.01" width="5.80" height="5.80" stroke="#1B1B1B" stroke-width="1.5" fill="none"/>
<rect x="111.42" y="554.61" width="5.80" height="5.80" stroke="#1B1B1B" stroke-width="1.5" fill="none"/>
<rect x="109.90" y="557.10" width="5.80" height="5.80" stroke="#1B1B1B" stroke-width="1.5" fill="none"/>
<path d="M388.3,493.70L412,493.70" stroke="#E8111E" stroke-width="1.6"/>
<path d="M397.25,490.80L403.05,496.60M397.25,496.60L403.05,490.80" stroke="#E8111E" stroke-width="1.2" fill="none"/>
<text x="414.3" y="499.26" font-size="16.85">Non-encrypted</text>
<path d="M388.3,520.85L412,520.85" stroke="#2F4EAA" stroke-width="1.6"/>
<circle cx="400.15" cy="520.85" r="3.00" stroke="#2F4EAA" stroke-width="1.2" fill="none"/>
<text x="414.3" y="526.41" font-size="16.85">Color-based</text>
<path d="M388.3,548.00L412,548.00" stroke="#1B1B1B" stroke-width="1.6"/>
<rect x="397.05" y="544.90" width="6.20" height="6.20" stroke="#1B1B1B" stroke-width="1.3" fill="none"/>
<text x="414.3" y="553.56" font-size="16.85">Proposed Grayscale-based</text>
<text x="323" y="616.5" text-anchor="middle" font-size="17.1">bits per pixel</text>
<text transform="translate(12.95,458.2) rotate(-90)" text-anchor="middle" font-size="16.7">PSNR (dB)</text>
<text x="299.5" y="648.0" text-anchor="middle" font-size="20.2" textLength="472" lengthAdjust="spacingAndGlyphs">(b) With 4:2:0 sub-sampling. Note that the conventional</text>
<text x="299.4" y="671.6" text-anchor="middle" font-size="20.2" textLength="563.5" lengthAdjust="spacingAndGlyphs">grayscale-based scheme cannot consider 4:2:0 color sub-sampling.</text>
<path d="M48.8,713.3L48.8,940.4M44.0,935.6L586.5,935.6" stroke="#2f2f2f" stroke-width="1.6" fill="none"/>
<path d="M44.0,903.84L53.599999999999994,903.84" stroke="#2f2f2f" stroke-width="1.6"/>
<path d="M44.0,872.08L53.599999999999994,872.08" stroke="#2f2f2f" stroke-width="1.6"/>
<path d="M44.0,840.32L53.599999999999994,840.32" stroke="#2f2f2f" stroke-width="1.6"/>
<path d="M44.0,808.56L53.599999999999994,808.56" stroke="#2f2f2f" stroke-width="1.6"/>
<path d="M44.0,776.80L53.599999999999994,776.80" stroke="#2f2f2f" stroke-width="1.6"/>
<path d="M44.0,745.04L53.599999999999994,745.04" stroke="#2f2f2f" stroke-width="1.6"/>
<path d="M44.0,713.28L53.599999999999994,713.28" stroke="#2f2f2f" stroke-width="1.6"/>
<path d="M183.23,930.8000000000001L183.23,940.4" stroke="#2f2f2f" stroke-width="1.6"/>
<path d="M317.65,930.8000000000001L317.65,940.4" stroke="#2f2f2f" stroke-width="1.6"/>
<path d="M452.08,930.8000000000001L452.08,940.4" stroke="#2f2f2f" stroke-width="1.6"/>
<path d="M586.50,930.8000000000001L586.50,940.4" stroke="#2f2f2f" stroke-width="1.6"/>
<text x="48.80" y="960.2" text-anchor="middle" font-size="16.5">0.25</text>
<text x="183.23" y="960.2" text-anchor="middle" font-size="16.5">0.75</text>
<text x="317.65" y="960.2" text-anchor="middle" font-size="16.5">1.25</text>
<text x="452.08" y="960.2" text-anchor="middle" font-size="16.5">1.75</text>
<text x="586.50" y="960.2" text-anchor="middle" font-size="16.5">2.25</text>
<text x="34.6" y="940.72" text-anchor="end" font-size="16.5">30</text>
<text x="34.6" y="908.96" text-anchor="end" font-size="16.5">32</text>
<text x="34.6" y="877.20" text-anchor="end" font-size="16.5">34</text>
<text x="34.6" y="845.44" text-anchor="end" font-size="16.5">36</text>
<text x="34.6" y="813.68" text-anchor="end" font-size="16.5">38</text>
<text x="34.6" y="781.91" text-anchor="end" font-size="16.5">40</text>
<text x="34.6" y="750.15" text-anchor="end" font-size="16.5">42</text>
<text x="34.6" y="718.39" text-anchor="end" font-size="16.5">44</text>
<path d="M538.30,786.00L499.30,797.70L463.20,808.20L439.80,816.30L411.00,824.40L391.60,831.60L373.00,838.40L355.60,844.00L341.00,849.40L328.40,854.00L314.40,859.00L303.40,863.60L294.00,867.60L283.60,871.60L275.00,875.00L267.40,878.40L258.60,881.60L251.60,885.00L242.00,888.40L237.60,890.40L232.00,893.00L225.60,895.60L220.60,898.40L215.60,901.00" stroke="#2F4EAA" stroke-width="1.7" fill="none" stroke-linejoin="round"/>
<path d="M509.10,740.50L440.30,761.50L372.40,781.60L337.00,794.40L304.40,806.60L277.00,816.60L254.70,825.30L241.30,832.50L224.00,840.00L212.00,846.70L200.80,852.80L189.30,858.70L181.30,863.50L175.20,867.00L169.00,870.40L163.00,873.60L158.34,876.88L153.91,879.99L149.70,882.95L145.71,885.76L141.91,888.43L138.30,890.96L134.87,893.37L131.62,895.66L128.53,897.84L125.59,899.90L122.80,901.87L120.15,903.73L117.63,905.50L115.23,907.18L112.96,908.78L110.80,910.30" stroke="#E8111E" stroke-width="1.8" fill="none" stroke-linejoin="round"/>
<path d="M543.15,790.74L408.63,803.00L327.86,814.80L285.03,824.74L249.15,833.05L224.79,841.27L203.82,848.57L187.73,854.78L174.44,860.92L162.92,866.43L153.17,871.16L144.02,875.74L136.49,879.94L129.40,883.90L123.05,887.39L117.29,890.73L111.97,894.69L108.32,897.85L104.81,900.88L101.43,903.79L98.20,906.59L95.09,909.27L92.11,911.85L89.25,914.32L86.50,916.69L83.86,918.97L81.33,921.16L78.90,923.26L76.56,925.28L74.32,927.22" stroke="#1B1B1B" stroke-width="1.4" fill="none" stroke-linejoin="round"/>
<path d="M538.30,783.00L541.66,788.90L534.94,788.90Z" stroke="#2F4EAA" stroke-width="1.45" fill="none" stroke-linejoin="miter"/>
<path d="M499.30,794.70L502.66,800.60L495.94,800.60Z" stroke="#2F4EAA" stroke-width="1.45" fill="none" stroke-linejoin="miter"/>
<path d="M463.20,805.20L466.56,811.10L459.84,811.10Z" stroke="#2F4EAA" stroke-width="1.45" fill="none" stroke-linejoin="miter"/>
<path d="M439.80,813.30L443.16,819.20L436.44,819.20Z" stroke="#2F4EAA" stroke-width="1.45" fill="none" stroke-linejoin="miter"/>
<path d="M411.00,821.40L414.36,827.30L407.64,827.30Z" stroke="#2F4EAA" stroke-width="1.45" fill="none" stroke-linejoin="miter"/>
<path d="M391.60,828.60L394.96,834.50L388.24,834.50Z" stroke="#2F4EAA" stroke-width="1.45" fill="none" stroke-linejoin="miter"/>
<path d="M373.00,835.40L376.36,841.30L369.64,841.30Z" stroke="#2F4EAA" stroke-width="1.45" fill="none" stroke-linejoin="miter"/>
<path d="M355.60,841.00L358.96,846.90L352.24,846.90Z" stroke="#2F4EAA" stroke-width="1.45" fill="none" stroke-linejoin="miter"/>
<path d="M341.00,846.40L344.36,852.30L337.64,852.30Z" stroke="#2F4EAA" stroke-width="1.45" fill="none" stroke-linejoin="miter"/>
<path d="M328.40,851.00L331.76,856.90L325.04,856.90Z" stroke="#2F4EAA" stroke-width="1.45" fill="none" stroke-linejoin="miter"/>
<path d="M314.40,856.00L317.76,861.90L311.04,861.90Z" stroke="#2F4EAA" stroke-width="1.45" fill="none" stroke-linejoin="miter"/>
<path d="M303.40,860.60L306.76,866.50L300.04,866.50Z" stroke="#2F4EAA" stroke-width="1.45" fill="none" stroke-linejoin="miter"/>
<path d="M294.00,864.60L297.36,870.50L290.64,870.50Z" stroke="#2F4EAA" stroke-width="1.45" fill="none" stroke-linejoin="miter"/>
<path d="M283.60,868.60L286.96,874.50L280.24,874.50Z" stroke="#2F4EAA" stroke-width="1.45" fill="none" stroke-linejoin="miter"/>
<path d="M275.00,872.00L278.36,877.90L271.64,877.90Z" stroke="#2F4EAA" stroke-width="1.45" fill="none" stroke-linejoin="miter"/>
<path d="M267.40,875.40L270.76,881.30L264.04,881.30Z" stroke="#2F4EAA" stroke-width="1.45" fill="none" stroke-linejoin="miter"/>
<path d="M258.60,878.60L261.96,884.50L255.24,884.50Z" stroke="#2F4EAA" stroke-width="1.45" fill="none" stroke-linejoin="miter"/>
<path d="M251.60,882.00L254.96,887.90L248.24,887.90Z" stroke="#2F4EAA" stroke-width="1.45" fill="none" stroke-linejoin="miter"/>
<path d="M242.00,885.40L245.36,891.30L238.64,891.30Z" stroke="#2F4EAA" stroke-width="1.45" fill="none" stroke-linejoin="miter"/>
<path d="M237.60,887.40L240.96,893.30L234.24,893.30Z" stroke="#2F4EAA" stroke-width="1.45" fill="none" stroke-linejoin="miter"/>
<path d="M232.00,890.00L235.36,895.90L228.64,895.90Z" stroke="#2F4EAA" stroke-width="1.45" fill="none" stroke-linejoin="miter"/>
<path d="M225.60,892.60L228.96,898.50L222.24,898.50Z" stroke="#2F4EAA" stroke-width="1.45" fill="none" stroke-linejoin="miter"/>
<path d="M220.60,895.40L223.96,901.30L217.24,901.30Z" stroke="#2F4EAA" stroke-width="1.45" fill="none" stroke-linejoin="miter"/>
<path d="M215.60,898.00L218.96,903.90L212.24,903.90Z" stroke="#2F4EAA" stroke-width="1.45" fill="none" stroke-linejoin="miter"/>
<path d="M505.80,737.20L512.40,743.80M505.80,743.80L512.40,737.20" stroke="#E8111E" stroke-width="1.45" fill="none"/>
<path d="M437.00,758.20L443.60,764.80M437.00,764.80L443.60,758.20" stroke="#E8111E" stroke-width="1.45" fill="none"/>
<path d="M369.10,778.30L375.70,784.90M369.10,784.90L375.70,778.30" stroke="#E8111E" stroke-width="1.45" fill="none"/>
<path d="M333.70,791.10L340.30,797.70M333.70,797.70L340.30,791.10" stroke="#E8111E" stroke-width="1.45" fill="none"/>
<path d="M301.10,803.30L307.70,809.90M301.10,809.90L307.70,803.30" stroke="#E8111E" stroke-width="1.45" fill="none"/>
<path d="M273.70,813.30L280.30,819.90M273.70,819.90L280.30,813.30" stroke="#E8111E" stroke-width="1.45" fill="none"/>
<path d="M251.40,822.00L258.00,828.60M251.40,828.60L258.00,822.00" stroke="#E8111E" stroke-width="1.45" fill="none"/>
<path d="M238.00,829.20L244.60,835.80M238.00,835.80L244.60,829.20" stroke="#E8111E" stroke-width="1.45" fill="none"/>
<path d="M220.70,836.70L227.30,843.30M220.70,843.30L227.30,836.70" stroke="#E8111E" stroke-width="1.45" fill="none"/>
<path d="M208.70,843.40L215.30,850.00M208.70,850.00L215.30,843.40" stroke="#E8111E" stroke-width="1.45" fill="none"/>
<path d="M197.50,849.50L204.10,856.10M197.50,856.10L204.10,849.50" stroke="#E8111E" stroke-width="1.45" fill="none"/>
<path d="M186.00,855.40L192.60,862.00M186.00,862.00L192.60,855.40" stroke="#E8111E" stroke-width="1.45" fill="none"/>
<path d="M178.00,860.20L184.60,866.80M178.00,866.80L184.60,860.20" stroke="#E8111E" stroke-width="1.45" fill="none"/>
<path d="M171.90,863.70L178.50,870.30M171.90,870.30L178.50,863.70" stroke="#E8111E" stroke-width="1.45" fill="none"/>
<path d="M165.70,867.10L172.30,873.70M165.70,873.70L172.30,867.10" stroke="#E8111E" stroke-width="1.45" fill="none"/>
<path d="M159.70,870.30L166.30,876.90M159.70,876.90L166.30,870.30" stroke="#E8111E" stroke-width="1.45" fill="none"/>
<path d="M155.04,873.58L161.64,880.18M155.04,880.18L161.64,873.58" stroke="#E8111E" stroke-width="1.45" fill="none"/>
<path d="M150.61,876.69L157.21,883.29M150.61,883.29L157.21,876.69" stroke="#E8111E" stroke-width="1.45" fill="none"/>
<path d="M146.40,879.65L153.00,886.25M146.40,886.25L153.00,879.65" stroke="#E8111E" stroke-width="1.45" fill="none"/>
<path d="M142.41,882.46L149.01,889.06M142.41,889.06L149.01,882.46" stroke="#E8111E" stroke-width="1.45" fill="none"/>
<path d="M138.61,885.13L145.21,891.73M138.61,891.73L145.21,885.13" stroke="#E8111E" stroke-width="1.45" fill="none"/>
<path d="M135.00,887.66L141.60,894.26M135.00,894.26L141.60,887.66" stroke="#E8111E" stroke-width="1.45" fill="none"/>
<path d="M131.57,890.07L138.17,896.67M131.57,896.67L138.17,890.07" stroke="#E8111E" stroke-width="1.45" fill="none"/>
<path d="M128.32,892.36L134.92,898.96M128.32,898.96L134.92,892.36" stroke="#E8111E" stroke-width="1.45" fill="none"/>
<path d="M125.23,894.54L131.83,901.14M125.23,901.14L131.83,894.54" stroke="#E8111E" stroke-width="1.45" fill="none"/>
<path d="M122.29,896.60L128.89,903.20M122.29,903.20L128.89,896.60" stroke="#E8111E" stroke-width="1.45" fill="none"/>
<path d="M119.50,898.57L126.10,905.17M119.50,905.17L126.10,898.57" stroke="#E8111E" stroke-width="1.45" fill="none"/>
<path d="M116.85,900.43L123.45,907.03M116.85,907.03L123.45,900.43" stroke="#E8111E" stroke-width="1.45" fill="none"/>
<path d="M114.33,902.20L120.93,908.80M114.33,908.80L120.93,902.20" stroke="#E8111E" stroke-width="1.45" fill="none"/>
<path d="M111.93,903.88L118.53,910.48M111.93,910.48L118.53,903.88" stroke="#E8111E" stroke-width="1.45" fill="none"/>
<path d="M109.66,905.48L116.26,912.08M109.66,912.08L116.26,905.48" stroke="#E8111E" stroke-width="1.45" fill="none"/>
<path d="M107.50,907.00L114.10,913.60M107.50,913.60L114.10,907.00" stroke="#E8111E" stroke-width="1.45" fill="none"/>
<rect x="540.35" y="787.94" width="5.60" height="5.60" stroke="#1B1B1B" stroke-width="1.3" fill="none"/>
<rect x="405.83" y="800.20" width="5.60" height="5.60" stroke="#1B1B1B" stroke-width="1.3" fill="none"/>
<rect x="325.06" y="812.00" width="5.60" height="5.60" stroke="#1B1B1B" stroke-width="1.3" fill="none"/>
<rect x="282.23" y="821.94" width="5.60" height="5.60" stroke="#1B1B1B" stroke-width="1.3" fill="none"/>
<rect x="246.35" y="830.25" width="5.60" height="5.60" stroke="#1B1B1B" stroke-width="1.3" fill="none"/>
<rect x="221.99" y="838.47" width="5.60" height="5.60" stroke="#1B1B1B" stroke-width="1.3" fill="none"/>
<rect x="201.02" y="845.77" width="5.60" height="5.60" stroke="#1B1B1B" stroke-width="1.3" fill="none"/>
<rect x="184.93" y="851.98" width="5.60" height="5.60" stroke="#1B1B1B" stroke-width="1.3" fill="none"/>
<rect x="171.64" y="858.12" width="5.60" height="5.60" stroke="#1B1B1B" stroke-width="1.3" fill="none"/>
<rect x="160.12" y="863.63" width="5.60" height="5.60" stroke="#1B1B1B" stroke-width="1.3" fill="none"/>
<rect x="150.37" y="868.36" width="5.60" height="5.60" stroke="#1B1B1B" stroke-width="1.3" fill="none"/>
<rect x="141.22" y="872.94" width="5.60" height="5.60" stroke="#1B1B1B" stroke-width="1.3" fill="none"/>
<rect x="133.69" y="877.14" width="5.60" height="5.60" stroke="#1B1B1B" stroke-width="1.3" fill="none"/>
<rect x="126.60" y="881.10" width="5.60" height="5.60" stroke="#1B1B1B" stroke-width="1.3" fill="none"/>
<rect x="120.25" y="884.59" width="5.60" height="5.60" stroke="#1B1B1B" stroke-width="1.3" fill="none"/>
<rect x="114.49" y="887.93" width="5.60" height="5.60" stroke="#1B1B1B" stroke-width="1.3" fill="none"/>
<rect x="109.17" y="891.89" width="5.60" height="5.60" stroke="#1B1B1B" stroke-width="1.3" fill="none"/>
<rect x="105.52" y="895.05" width="5.60" height="5.60" stroke="#1B1B1B" stroke-width="1.3" fill="none"/>
<rect x="102.01" y="898.08" width="5.60" height="5.60" stroke="#1B1B1B" stroke-width="1.3" fill="none"/>
<rect x="98.63" y="900.99" width="5.60" height="5.60" stroke="#1B1B1B" stroke-width="1.3" fill="none"/>
<rect x="95.40" y="903.79" width="5.60" height="5.60" stroke="#1B1B1B" stroke-width="1.3" fill="none"/>
<rect x="92.29" y="906.47" width="5.60" height="5.60" stroke="#1B1B1B" stroke-width="1.3" fill="none"/>
<rect x="89.31" y="909.05" width="5.60" height="5.60" stroke="#1B1B1B" stroke-width="1.3" fill="none"/>
<rect x="86.45" y="911.52" width="5.60" height="5.60" stroke="#1B1B1B" stroke-width="1.3" fill="none"/>
<rect x="83.70" y="913.89" width="5.60" height="5.60" stroke="#1B1B1B" stroke-width="1.3" fill="none"/>
<rect x="81.06" y="916.17" width="5.60" height="5.60" stroke="#1B1B1B" stroke-width="1.3" fill="none"/>
<rect x="78.53" y="918.36" width="5.60" height="5.60" stroke="#1B1B1B" stroke-width="1.3" fill="none"/>
<rect x="76.10" y="920.46" width="5.60" height="5.60" stroke="#1B1B1B" stroke-width="1.3" fill="none"/>
<rect x="73.76" y="922.48" width="5.60" height="5.60" stroke="#1B1B1B" stroke-width="1.3" fill="none"/>
<rect x="71.52" y="924.42" width="5.60" height="5.60" stroke="#1B1B1B" stroke-width="1.3" fill="none"/>
<path d="M310.8,878.00L334.7,878.00" stroke="#2F4EAA" stroke-width="1.6"/>
<path d="M322.75,875.00L326.22,880.90L319.28,880.90Z" stroke="#2F4EAA" stroke-width="1.3" fill="none" stroke-linejoin="miter"/>
<text x="336.6" y="883.46" font-size="16.55">Conventional Grayscale-based (4:4:4)</text>
<path d="M310.8,898.35L334.7,898.35" stroke="#E8111E" stroke-width="1.6"/>
<path d="M319.65,895.25L325.85,901.45M319.65,901.45L325.85,895.25" stroke="#E8111E" stroke-width="1.3" fill="none"/>
<text x="336.6" y="903.81" font-size="16.55">Proposed Grayscale-based (4:4:4)</text>
<path d="M310.8,918.70L334.7,918.70" stroke="#1B1B1B" stroke-width="1.3"/>
<rect x="319.65" y="915.60" width="6.20" height="6.20" stroke="#1B1B1B" stroke-width="1.3" fill="none"/>
<text x="336.6" y="924.16" font-size="16.55">Proposed Grayscale-based (4:2:0)</text>
<text x="318" y="980.5" text-anchor="middle" font-size="16.5" font-style="italic">bpp</text>
<text transform="translate(12.65,824.3) rotate(-90)" text-anchor="middle" font-size="16.4">PSNR (dB)</text>
<text x="299.5" y="1011" text-anchor="middle" font-size="20.2" textLength="599" lengthAdjust="spacingAndGlyphs">(c) Comparison between the proposed scheme with 4:2:0 sub-sampling</text>
<text x="299.5" y="1034.6" text-anchor="middle" font-size="20.2" textLength="209.5" lengthAdjust="spacingAndGlyphs">and the conventional one</text>
</svg>
</body></html>
